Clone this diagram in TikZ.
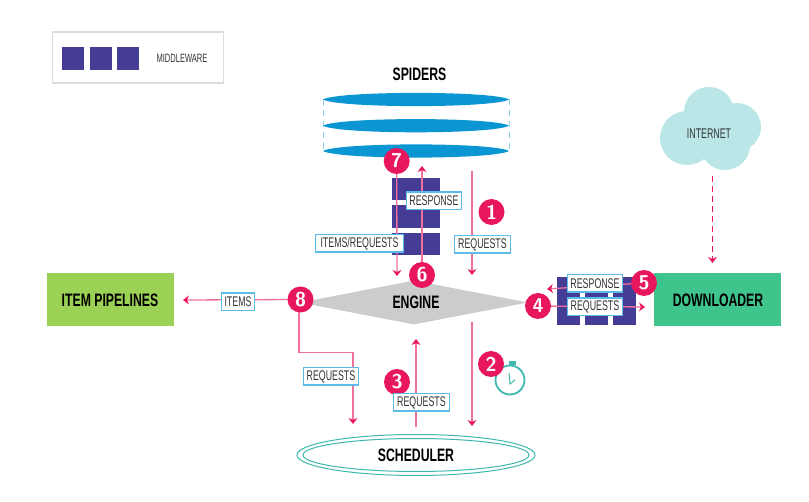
\documentclass[tikz,border=0pt]{standalone}
\usepackage{fontspec}
\usetikzlibrary{arrows.meta,shapes.geometric}
\newfontfamily\labelface[FakeStretch=0.63]{Liberation Sans}
\newfontfamily\titleface[FakeStretch=0.68]{Liberation Sans Bold}
\definecolor{flowpink}{HTML}{E8175D}
\definecolor{linepink}{HTML}{F0709A}
\definecolor{discblue}{HTML}{0A95D3}
\definecolor{edgeblue}{HTML}{8FD2EE}
\definecolor{mwpurple}{HTML}{453C96}
\definecolor{tagblue}{HTML}{5BBBEA}
\definecolor{pipegreen}{HTML}{9BD154}
\definecolor{dlgreen}{HTML}{3FC48B}
\definecolor{cloudblue}{HTML}{BAE6E8}
\definecolor{schedteal}{HTML}{3EB7AE}
\definecolor{enginegray}{HTML}{CCCCCC}
\definecolor{legendgray}{HTML}{DDDDDD}
\pgfdeclarelayer{base}
\pgfdeclarelayer{links}
\pgfsetlayers{base,links,main}
\tikzset{
  mwblock/.style={fill=mwpurple,draw=none,minimum width=#1,inner sep=0pt},
  mwblock/.default=22pt,
  tag/.style={draw=tagblue,line width=1.5pt,fill=white,text=black!80,inner sep=0pt,
    minimum height=17.5pt,font=\labelface\fontsize{14}{14}\selectfont},
  stepdot/.style={circle,fill=flowpink,text=white,inner sep=0pt,minimum size=26pt,
    font=\sffamily\bfseries\fontsize{20}{20}\selectfont},
  title/.style={text=black,inner sep=0pt,font=\titleface\fontsize{18}{18}\selectfont},
  flow/.style={draw=linepink,line width=1.3pt,
    -{Stealth[length=6pt,width=9pt,color=flowpink]}},
  block/.style={draw=none,inner sep=0pt,minimum height=53pt},
}
\begin{document}
\begin{tikzpicture}[x=1pt,y=-1pt]
\useasboundingbox (0,0) rectangle (809,502);

\begin{pgfonlayer}{base}
% legend
\node[draw=legendgray,line width=1.5pt,fill=white,minimum width=171pt,minimum height=51pt,inner sep=0pt] (legend) at (138,57.5) {};
\node[mwblock,minimum height=23pt] (legendA) at (73,58.5) {};
\node[mwblock,minimum height=23pt] (legendB) at (100.5,58.5) {};
\node[mwblock,minimum height=23pt] (legendC) at (128,58.5) {};
\node[inner sep=0pt,text=black!80,font=\labelface\fontsize{12}{12}\selectfont] (legendText) at (182,58.5) {MIDDLEWARE};

% spiders: three lens-shaped discs joined by dashed edges
\node[title] (spiders) at (419.5,74) {SPIDERS};
\draw[edgeblue,line width=1pt,dash pattern=on 6pt off 5pt] (323,99) -- (323,151);
\draw[edgeblue,line width=1pt,dash pattern=on 6pt off 5pt] (509,99) -- (509,151);
\foreach \discy in {99.5,125.7,151}{
  \fill[discblue] (323,\discy) .. controls (338,\discy-8.8) and (494,\discy-8.8) .. (509,\discy)
    .. controls (494,\discy+8.8) and (338,\discy+8.8) .. cycle;
}

% spider middleware stack
\node[mwblock=48pt,minimum height=22pt] (stackA) at (416,189) {};
\node[mwblock=48pt,minimum height=23pt] (stackB) at (416,216.5) {};
\node[mwblock=48pt,minimum height=22pt] (stackC) at (416,244) {};

% downloader middleware
\node[mwblock=23pt,minimum height=48pt] (colA) at (568.5,301) {};
\node[mwblock=23pt,minimum height=48pt] (colB) at (596.5,301) {};
\node[mwblock=23pt,minimum height=48pt] (colC) at (624.5,301) {};
\fill[mwpurple] (557,277) rectangle (636,293);

% components
\node[diamond,fill=enginegray,inner sep=0pt,aspect=5.2,minimum width=228pt,minimum height=44pt] (engine) at (414,302.5) {};
\node[title] (engineText) at (416,302) {ENGINE};
\node[block,fill=pipegreen,minimum width=127pt] (pipelines) at (110.5,299.5) {};
\node[title] (pipelinesText) at (110,300) {ITEM PIPELINES};
\node[block,fill=dlgreen,minimum width=127pt] (downloader) at (717.5,299.5) {};
\node[title] (downloaderText) at (718,300) {DOWNLOADER};

% scheduler rings
\node[ellipse,draw=schedteal,line width=1pt,fill=white,minimum width=238pt,minimum height=41pt,inner sep=0pt] (schedOuter) at (416,455) {};
\node[ellipse,draw=schedteal,line width=1pt,minimum width=226pt,minimum height=33pt,inner sep=0pt] (schedInner) at (416,455) {};
\node[title] (scheduler) at (416,455) {SCHEDULER};

% internet cloud
\fill[cloudblue] (687,138) circle (27pt) (709,112) circle (25pt) (737,127) circle (24pt) (725,145) circle (25pt) (705,125) circle (20pt);
\node[inner sep=0pt,text=black!80,font=\labelface\fontsize{14}{14}\selectfont] (internet) at (709,134) {INTERNET};
\end{pgfonlayer}

% stopwatch beside step two
\node[circle,draw=schedteal,line width=1.8pt,fill=white,minimum size=29pt,inner sep=0pt] (clock) at (510,380) {};
\node[fill=schedteal,minimum width=7pt,minimum height=4pt,inner sep=0pt] (clockKnob) at (512,363.5) {};
\draw[schedteal,line width=1pt] (509,373) -- (510,384) -- (515,380);

% step markers
\node[stepdot] (s1) at (491.5,212) {1};
\node[stepdot] (s2) at (491,364) {2};
\node[stepdot] (s3) at (397,382) {3};
\node[stepdot] (s4) at (538,306) {4};
\node[stepdot] (s5) at (644,283) {5};
\node[stepdot] (s6) at (422,275) {6};
\node[stepdot] (s7) at (396.7,161) {7};
\node[stepdot] (s8) at (300.5,299.5) {8};

% free ends of the connectors
\coordinate (reqTop) at (472,171);
\coordinate (reqEngine) at (472,275);
\coordinate (toSpider) at (422,166);
\coordinate (toEngine) at (397,276);
\coordinate (engineOut) at (472,322);
\coordinate (schedIn) at (472,426);
\coordinate (schedOut) at (416,427);
\coordinate (engineIn) at (416,339);
\coordinate (dlLeft) at (547,289);
\coordinate (dlRight) at (645,307);
\coordinate (pipeEnd) at (183,300);
\coordinate (turnA) at (299,352.5);
\coordinate (turnB) at (353,352.5);
\coordinate (schedInB) at (353,424);
\coordinate (cloudEnd) at (712.5,263);
\coordinate (cloudStart) at (712.5,176);

% connectors run under the markers and labels
\begin{pgfonlayer}{links}
\draw[flow] (reqTop) -- (reqEngine);
\draw[flow] (engineOut) -- (schedIn);
\draw[flow] (schedOut) -- (engineIn);
\draw[flow] (s6.center) -- (toSpider);
\draw[flow] (s7.center) -- (toEngine);
\draw[flow] (s5.center) -- (dlLeft);
\draw[flow] (s4.center) -- (dlRight);
\draw[flow] (s8.center) -- (pipeEnd);
\draw[flow] (s8.center -| turnA) -- (turnA) -- (turnB) -- (schedInB);
\draw[flow,draw=flowpink,dash pattern=on 6pt off 4pt] (cloudStart) -- (cloudEnd);
\end{pgfonlayer}

% connector labels
\node[tag,minimum width=55pt] (tagRespTop) at (434,201) {RESPONSE};
\node[tag,minimum width=88pt] (tagItemsReq) at (359.5,243.5) {ITEMS/REQUESTS};
\node[tag,minimum width=56pt] (tagReq1) at (482.5,244.5) {REQUESTS};
\node[tag,minimum width=55pt] (tagResp) at (595,283.5) {RESPONSE};
\node[tag,minimum width=55pt] (tagReq4) at (595,307) {REQUESTS};
\node[tag,minimum width=33pt] (tagItems) at (238,302) {ITEMS};
\node[tag,minimum width=55pt] (tagReq8) at (331,376.5) {REQUESTS};
\node[tag,minimum width=56pt] (tagReq3) at (421.5,402.5) {REQUESTS};
\end{tikzpicture}
\end{document}
